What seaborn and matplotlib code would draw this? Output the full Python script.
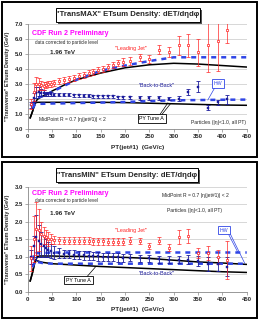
import matplotlib
matplotlib.use("Agg")
import numpy as np
import pandas as pd
import matplotlib.pyplot as plt
import seaborn as sns
from matplotlib.patches import Rectangle

# ==== DATA ====
pt_bins = [7.5, 12.5, 17.5, 22.5, 27.5, 32.5, 37.5, 42.5, 47.5, 55, 65, 75, 85, 95,
           105, 115, 125, 135, 145, 155, 165, 175, 185, 195, 210, 230, 250, 270,
           290, 310, 330, 350, 370, 390, 410]

# TransMAX
max_lj = [1.7, 2.5, 3.0, 3.05, 2.95, 2.9, 2.95, 3.0, 3.05, 3.1, 3.2, 3.3, 3.35, 3.45,
          3.55, 3.65, 3.75, 3.85, 3.95, 4.05, 4.15, 4.3, 4.4, 4.5, 4.55, 4.8, 4.7, 5.3,
          5.15, 5.6, 5.6, 5.15, 5.6, 5.9, 6.6]
max_lj_err = [0.35, 0.6, 0.5, 0.4, 0.3, 0.25, 0.2, 0.2, 0.2, 0.2, 0.2, 0.2, 0.2, 0.2,
              0.2, 0.2, 0.2, 0.2, 0.2, 0.2, 0.2, 0.2, 0.2, 0.25, 0.25, 0.25, 0.25, 0.3,
              0.35, 0.65, 0.75, 0.9, 1.8, 2.0, 0.85]
max_bb = [1.65, 2.1, 2.45, 2.5, 2.45, 2.4, 2.35, 2.35, 2.35, 2.3, 2.3, 2.3, 2.3, 2.28,
          2.27, 2.25, 2.25, 2.22, 2.2, 2.2, 2.2, 2.2, 2.15, 2.15, 2.15, 2.1, 2.1, 2.1,
          2.05, 2.05, 2.5, 2.85, 1.45, 1.8, 2.0]
max_bb_err = [0.2, 0.3, 0.35, 0.3, 0.25, 0.2, 0.15, 0.12, 0.12, 0.1, 0.1, 0.1, 0.1, 0.1,
              0.1, 0.1, 0.1, 0.1, 0.1, 0.1, 0.1, 0.1, 0.1, 0.1, 0.1, 0.12, 0.12, 0.12,
              0.12, 0.15, 0.2, 0.35, 0.15, 0.15, 0.3]

# TransMIN
min_lj = [0.95, 1.5, 1.8, 1.75, 1.65, 1.6, 1.55, 1.5, 1.5, 1.48, 1.47, 1.46, 1.46, 1.45,
          1.45, 1.45, 1.45, 1.44, 1.44, 1.44, 1.43, 1.43, 1.43, 1.43, 1.45, 1.45, 1.3, 1.45,
          1.25, 1.55, 1.6, 1.1, 1.1, 1.0, 0.9]
min_lj_err = [0.35, 0.65, 0.75, 0.6, 0.35, 0.25, 0.2, 0.2, 0.15, 0.12, 0.1, 0.1, 0.1, 0.1,
              0.1, 0.1, 0.1, 0.1, 0.1, 0.1, 0.1, 0.1, 0.1, 0.1, 0.1, 0.08, 0.08, 0.1,
              0.1, 0.2, 0.2, 0.15, 0.2, 0.2, 0.55]
min_bb = [1.0, 1.3, 1.55, 1.45, 1.35, 1.3, 1.25, 1.2, 1.15, 1.12, 1.1, 1.08, 1.07, 1.06,
          1.05, 1.04, 1.03, 1.02, 1.01, 1.0, 1.0, 0.99, 0.98, 0.97, 0.97, 0.95, 0.95, 0.93,
          0.92, 0.92, 0.92, 0.88, 0.8, 0.78, 0.72]
min_bb_err = [0.2, 0.3, 0.65, 0.45, 0.35, 0.3, 0.25, 0.22, 0.2, 0.18, 0.15, 0.12, 0.12, 0.12,
              0.12, 0.12, 0.12, 0.12, 0.12, 0.12, 0.12, 0.12, 0.12, 0.12, 0.1, 0.1, 0.1, 0.1,
              0.1, 0.1, 0.12, 0.15, 0.2, 0.2, 0.28]

# theory curves
py_x = [5, 10, 15, 20, 25, 30, 40, 50, 75, 100, 150, 200, 250, 300, 350, 400, 450]
max_py_lj = [0.75, 1.2, 1.75, 2.0, 2.1, 2.2, 2.35, 2.55, 2.95, 3.3, 3.75, 4.1, 4.3, 4.4, 4.35, 4.25, 4.15]
max_py_bb = [0.75, 1.2, 1.75, 1.8, 1.8, 1.8, 1.8, 1.8, 1.8, 1.8, 1.8, 1.78, 1.74, 1.7, 1.66, 1.62, 1.6]
min_py_lj = [0.3, 0.55, 0.85, 1.0, 1.02, 1.02, 1.02, 1.02, 1.01, 1.01, 1.0, 0.98, 0.95, 0.9, 0.85, 0.82, 0.78]
min_py_bb = [0.3, 0.55, 0.9, 0.88, 0.86, 0.84, 0.82, 0.8, 0.78, 0.76, 0.72, 0.69, 0.66, 0.63, 0.6, 0.57, 0.55]

hw_x = [10, 15, 20, 30, 50, 75, 100, 150, 200, 250, 300, 350, 400, 450]
max_hw_lj = [1.6, 2.0, 2.1, 2.2, 2.5, 2.9, 3.3, 3.9, 4.25, 4.55, 4.8, 4.8, 4.8, 4.8]
max_hw_bb = [1.4, 1.65, 1.7, 1.7, 1.72, 1.73, 1.75, 1.78, 1.82, 1.88, 1.93, 1.95, 1.97, 1.98]
min_hw_lj = [0.9, 1.15, 1.1, 1.1, 1.12, 1.12, 1.12, 1.12, 1.12, 1.12, 1.12, 1.12, 1.12, 1.12]
min_hw_bb = [0.7, 0.88, 0.85, 0.82, 0.8, 0.8, 0.8, 0.8, 0.8, 0.8, 0.8, 0.8, 0.8, 0.8]

x_ticks = [0, 50, 100, 150, 200, 250, 300, 350, 400, 450]

RED = "#ff2020"
NAVY = "#1c1c9c"
HWBLUE = "#2f45e6"

sns.set_theme(style="white")
plt.rcParams["font.family"] = ["Liberation Sans", "DejaVu Sans"]

fig = plt.figure(figsize=(2.58, 3.2), dpi=100)
fig.patch.set_facecolor("white")

W, H = 258.0, 320.0


def fx(px):
    return px / W


def fy(py):
    return 1 - py / H


def frame_and_title(top_px, bot_px, title, tx0, tx1, ty0, ty1):
    fig.patches.append(Rectangle((fx(1.5), fy(bot_px)), fx(255), (bot_px - top_px) / H,
                                 transform=fig.transFigure, fill=False, ec="black", lw=1.4))
    # shadow + box
    fig.patches.append(Rectangle((fx(tx0 + 2), fy(ty1 + 2)), (tx1 - tx0) / W, (ty1 - ty0) / H,
                                 transform=fig.transFigure, fc="#555555", ec="none"))
    fig.patches.append(Rectangle((fx(tx0), fy(ty1)), (tx1 - tx0) / W, (ty1 - ty0) / H,
                                 transform=fig.transFigure, fc="white", ec="black", lw=0.7))
    fig.text(fx((tx0 + tx1) / 2), fy((ty0 + ty1) / 2), title, ha="center", va="center",
             fontsize=5.6, fontweight="bold")


def hw_line(ax, x, y):
    sns.lineplot(x=x, y=y, ax=ax, color=HWBLUE, lw=1.8, sort=False, estimator=None)
    ax.lines[-1].set_dashes([2.0, 2.0])


def draw_panel(ax, ymax, lj, lj_err, bb, bb_err, py_lj, py_bb, hw_lj, hw_bb):
    ax.set_xlim(0, 450)
    ax.set_ylim(0, ymax)
    ax.yaxis.grid(True, color="#c8c8c8", lw=0.5)
    ax.set_axisbelow(True)

    sns.lineplot(x=py_x, y=py_lj, ax=ax, color="black", lw=1.1, sort=False, estimator=None)
    sns.lineplot(x=py_x, y=py_bb, ax=ax, color="black", lw=1.1, sort=False, estimator=None)
    hw_line(ax, hw_x, hw_lj)
    hw_line(ax, hw_x, hw_bb)

    ax.errorbar(pt_bins, bb, yerr=bb_err, fmt="none", ecolor=NAVY, elinewidth=0.6,
                capsize=1.3, capthick=0.6, zorder=4)
    ax.errorbar(pt_bins, lj, yerr=lj_err, fmt="none", ecolor=RED, elinewidth=0.6,
                capsize=1.3, capthick=0.6, alpha=0.8, zorder=4)
    sns.scatterplot(x=pt_bins, y=bb, ax=ax, marker="s", s=3, color=NAVY, edgecolor=NAVY,
                    linewidth=0.3, zorder=5)
    sns.scatterplot(x=pt_bins, y=lj, ax=ax, marker="s", s=4, facecolor="white",
                    edgecolor=RED, linewidth=0.5, zorder=5)

    ax.set_xticks(x_ticks)
    ax.set_yticks(np.arange(0, ymax + 0.01, 1.0 if ymax > 5 else 0.5))
    ax.yaxis.set_major_formatter(matplotlib.ticker.FormatStrFormatter("%.1f"))
    for s in ["top", "right"]:
        ax.spines[s].set_visible(False)
    for s in ["left", "bottom"]:
        ax.spines[s].set_color("#888888")
        ax.spines[s].set_linewidth(0.6)
    ax.tick_params(axis="both", labelsize=4.3, length=2, width=0.5, color="#888888",
                   pad=1.5, direction="out", left=True, bottom=True)
    for lab in ax.get_xticklabels() + ax.get_yticklabels():
        lab.set_fontweight("bold")
    ax.set_xlabel("PT(jet#1)  (GeV/c)", fontsize=4.6, fontweight="bold", labelpad=4)
    ax.set_ylabel('"Transverse" ETsum Density (GeV)', fontsize=3.9, fontweight="bold",
                  labelpad=3)


def boxed(ax, x, y, text, ec, color="black"):
    ax.text(x, y, text, ha="center", va="center", fontsize=3.8, color=color, zorder=7,
            bbox=dict(boxstyle="square,pad=0.35", fc="white", ec=ec, lw=0.6))


# ==== TOP: TransMAX ====
frame_and_title(1.5, 157, '"TransMAX" ETsum Density: dET/d\u03b7d\u03c6', 56, 200, 8.3, 21.7)
ax1 = fig.add_axes([fx(27.7), fy(129.3), (246.7 - 27.7) / W, (129.3 - 24.3) / H])
draw_panel(ax1, 7.0, max_lj, max_lj_err, max_bb, max_bb_err, max_py_lj, max_py_bb,
           max_hw_lj, max_hw_bb)
ax1.text(9.5, 6.4, "CDF Run 2 Preliminary", color="#ff00ff", fontsize=5.0,
         fontweight="bold", va="center")
ax1.text(15, 5.8, "data corrected to particle level", fontsize=3.3, va="center")
ax1.text(46, 5.13, "1.96 TeV", fontsize=4.5, fontweight="bold", va="center")
ax1.text(212, 5.4, '"Leading Jet"', color=RED, fontsize=3.9, ha="center", va="center")
ax1.text(265, 2.93, '"Back-to-Back"', color=NAVY, fontsize=3.9, ha="center", va="center")
ax1.text(24, 0.62, "MidPoint R = 0.7 |\u03b7(jet#1)| < 2", fontsize=3.6, va="center")
ax1.text(448, 0.44, "Particles (|\u03b7|<1.0, all PT)", fontsize=3.6, ha="right", va="center")
ax1.plot([384, 370], [2.75, 1.95], color=HWBLUE, lw=0.5, zorder=6)
ax1.plot([272, 288], [1.0, 1.76], color="black", lw=0.5, zorder=6)
ax1.plot([276, 294], [1.0, 1.73], color="black", lw=0.5, zorder=6)
boxed(ax1, 391, 3.07, "HW", HWBLUE, color=HWBLUE)
boxed(ax1, 255, 0.73, "PY Tune A", "black")

# ==== BOTTOM: TransMIN ====
frame_and_title(161.5, 318, '"TransMIN" ETsum Density: dET/d\u03b7d\u03c6', 56, 198, 168.3, 182.3)
ax2 = fig.add_axes([fx(27.7), fy(291.7), (246.7 - 27.7) / W, (291.7 - 186.7) / H])
draw_panel(ax2, 3.0, min_lj, min_lj_err, min_bb, min_bb_err, min_py_lj, min_py_bb,
           min_hw_lj, min_hw_bb)
ax2.text(9.5, 2.81, "CDF Run 2 Preliminary", color="#ff00ff", fontsize=5.0,
         fontweight="bold", va="center")
ax2.text(15, 2.6, "data corrected to particle level", fontsize=3.3, va="center")
ax2.text(46, 2.22, "1.96 TeV", fontsize=4.5, fontweight="bold", va="center")
ax2.text(275, 2.76, "MidPoint R = 0.7 |\u03b7(jet#1)| < 2", fontsize=3.6, va="center")
ax2.text(286, 2.31, "Particles (|\u03b7|<1.0, all PT)", fontsize=3.6, va="center")
ax2.text(212, 1.76, '"Leading Jet"', color=RED, fontsize=3.9, ha="center", va="center")
ax2.text(265, 0.53, '"Back-to-Back"', color=NAVY, fontsize=3.9, ha="center", va="center")
ax2.plot([412, 432], [1.66, 1.12], color=HWBLUE, lw=0.5, zorder=6)
ax2.plot([416, 446], [1.66, 0.81], color=HWBLUE, lw=0.5, zorder=6)
ax2.plot([120, 140], [0.4, 0.72], color="black", lw=0.5, zorder=6)
boxed(ax2, 403, 1.76, "HW", HWBLUE, color=HWBLUE)
boxed(ax2, 104, 0.33, "PY Tune A", "black")

fig.savefig("out.png", dpi=100, facecolor="white")
